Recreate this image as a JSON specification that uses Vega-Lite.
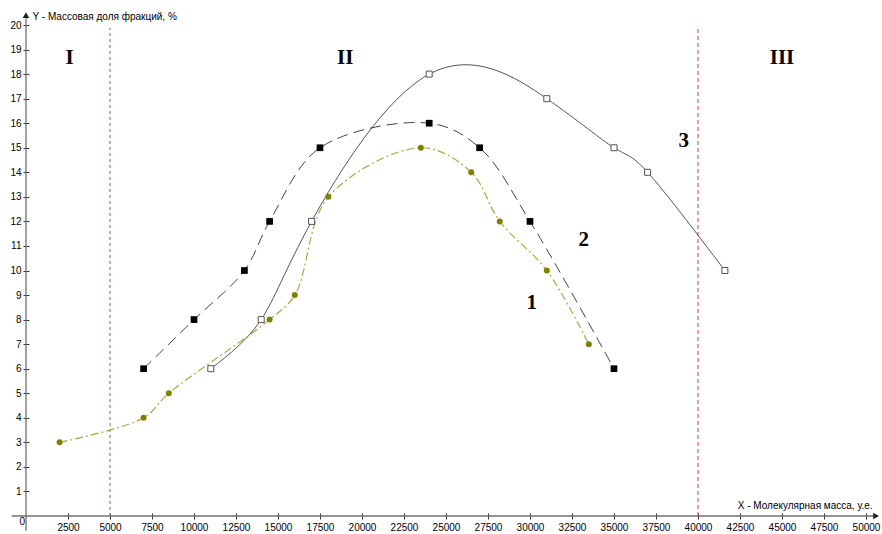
{
  "$schema": "https://vega.github.io/schema/vega-lite/v6.json",
  "width": 840,
  "height": 491,
  "autosize": {"type": "none"},
  "padding": {"left": 26, "top": 25, "right": 16, "bottom": 18},
  "background": "white",
  "config": {
    "view": {"stroke": null},
    "axis": {
      "grid": false,
      "domain": false,
      "labelFont": "Liberation Sans",
      "labelFontSize": 10,
      "labelColor": "#000",
      "labelOverlap": false,
      "labelFlush": false,
      "labelBound": false,
      "tickColor": "#333",
      "tickSize": 6,
      "offset": -3,
      "titleFont": "Liberation Sans",
      "titleFontSize": 10,
      "titleFontWeight": "normal",
      "titleColor": "#000"
    }
  },
  "datasets": {
    "curves": [
      {"series": "1", "x": 2000, "y": 3},
      {"series": "1", "x": 7000, "y": 4},
      {"series": "1", "x": 8500, "y": 5},
      {"series": "1", "x": 14500, "y": 8},
      {"series": "1", "x": 16000, "y": 9},
      {"series": "1", "x": 18000, "y": 13},
      {"series": "1", "x": 23500, "y": 15},
      {"series": "1", "x": 26500, "y": 14},
      {"series": "1", "x": 28200, "y": 12},
      {"series": "1", "x": 31000, "y": 10},
      {"series": "1", "x": 33500, "y": 7},
      {"series": "2", "x": 7000, "y": 6},
      {"series": "2", "x": 10000, "y": 8},
      {"series": "2", "x": 13000, "y": 10},
      {"series": "2", "x": 14500, "y": 12},
      {"series": "2", "x": 17500, "y": 15},
      {"series": "2", "x": 24000, "y": 16},
      {"series": "2", "x": 27000, "y": 15},
      {"series": "2", "x": 30000, "y": 12},
      {"series": "2", "x": 35000, "y": 6},
      {"series": "3", "x": 11000, "y": 6},
      {"series": "3", "x": 14000, "y": 8},
      {"series": "3", "x": 17000, "y": 12},
      {"series": "3", "x": 24000, "y": 18},
      {"series": "3", "x": 31000, "y": 17},
      {"series": "3", "x": 35000, "y": 15},
      {"series": "3", "x": 37000, "y": 14},
      {"series": "3", "x": 41600, "y": 10}
    ],
    "bounds": [
      {"b": "I-II", "x": 5000, "y": 0, "y2": 19.9},
      {"b": "II-III", "x": 40000, "y": 0, "y2": 19.9}
    ],
    "axes": [
      {"x": -850, "x2": 50700, "y": 0, "y2": 0},
      {"x": 0, "x2": 0, "y": -0.6, "y2": 20.4}
    ],
    "arrows": [
      {"x": 50600, "y": 0, "shape": "triangle-right"},
      {"x": 0, "y": 20.4, "shape": "triangle-up"}
    ],
    "labels": [
      {"x": 2600, "y": 18.66, "t": "I"},
      {"x": 19000, "y": 18.66, "t": "II"},
      {"x": 45000, "y": 18.66, "t": "III"},
      {"x": 30100, "y": 8.67, "t": "1"},
      {"x": 33200, "y": 11.26, "t": "2"},
      {"x": 39150, "y": 15.29, "t": "3"}
    ],
    "zero": [{"x": 0, "y": 0, "t": "0"}]
  },
  "layer": [
    {
      "data": {"name": "bounds"},
      "transform": [{"filter": "datum.b === 'I-II'"}],
      "mark": {"type": "rule", "stroke": "#3a9a3a", "strokeWidth": 1, "strokeDash": [3, 3]},
      "encoding": {
        "x": {
          "field": "x", "type": "quantitative",
          "scale": {"domain": [0, 50000], "nice": false, "zero": false},
          "axis": {
            "values": [2500, 5000, 7500, 10000, 12500, 15000, 17500, 20000, 22500, 25000, 27500, 30000, 32500, 35000, 37500, 40000, 42500, 45000, 47500, 50000],
            "tickCount": 20,
            "format": "d",
            "labelPadding": 3,
            "title": "X - Молекулярная масса, у.е.",
            "titleX": 846,
            "titleY": -8,
            "titleAlign": "right",
            "titleBaseline": "middle",
            "titleAngle": 0
          }
        },
        "y": {
          "field": "y", "type": "quantitative",
          "scale": {"domain": [0, 20], "nice": false, "zero": false},
          "axis": {
            "values": [1, 2, 3, 4, 5, 6, 7, 8, 9, 10, 11, 12, 13, 14, 15, 16, 17, 18, 19, 20],
            "tickCount": 20,
            "labelPadding": 2,
            "title": "Y - Массовая доля фракций, %",
            "titleX": 3,
            "titleY": -9,
            "titleAlign": "left",
            "titleBaseline": "middle",
            "titleAngle": 0
          }
        },
        "y2": {"field": "y2"}
      }
    },
    {
      "data": {"name": "bounds"},
      "transform": [{"filter": "datum.b === 'II-III'"}],
      "mark": {"type": "rule", "stroke": "#cc4444", "strokeWidth": 1, "strokeDash": [4, 3]},
      "encoding": {
        "x": {"field": "x", "type": "quantitative"},
        "y": {"field": "y", "type": "quantitative"},
        "y2": {"field": "y2"}
      }
    },
    {
      "data": {"name": "axes"},
      "mark": {"type": "rule", "stroke": "#707070", "strokeWidth": 1.3},
      "encoding": {
        "x": {"field": "x", "type": "quantitative"},
        "x2": {"field": "x2"},
        "y": {"field": "y", "type": "quantitative"},
        "y2": {"field": "y2"}
      }
    },
    {
      "data": {"name": "arrows"},
      "mark": {"type": "point", "filled": true, "size": 45, "color": "#222", "opacity": 1},
      "encoding": {
        "x": {"field": "x", "type": "quantitative"},
        "y": {"field": "y", "type": "quantitative"},
        "shape": {"field": "shape", "type": "nominal", "scale": null}
      }
    },
    {
      "data": {"name": "zero"},
      "mark": {"type": "text", "align": "right", "baseline": "top", "dx": -1, "dy": 1, "font": "Liberation Sans", "fontSize": 10, "color": "#000"},
      "encoding": {
        "x": {"field": "x", "type": "quantitative"},
        "y": {"field": "y", "type": "quantitative"},
        "text": {"field": "t"}
      }
    },
    {
      "data": {"name": "curves"},
      "transform": [{"filter": "datum.series === '3'"}],
      "mark": {"type": "line", "interpolate": "natural", "stroke": "#555", "strokeWidth": 1},
      "encoding": {
        "x": {"field": "x", "type": "quantitative"},
        "y": {"field": "y", "type": "quantitative"}
      }
    },
    {
      "data": {"name": "curves"},
      "transform": [{"filter": "datum.series === '2'"}],
      "mark": {"type": "line", "interpolate": "catmull-rom", "stroke": "#444", "strokeWidth": 1, "strokeDash": [11, 6]},
      "encoding": {
        "x": {"field": "x", "type": "quantitative"},
        "y": {"field": "y", "type": "quantitative"}
      }
    },
    {
      "data": {"name": "curves"},
      "transform": [{"filter": "datum.series === '1'"}],
      "mark": {"type": "line", "interpolate": "catmull-rom", "stroke": "#a8a848", "strokeWidth": 1.2, "strokeDash": [8, 3, 2, 3]},
      "encoding": {
        "x": {"field": "x", "type": "quantitative"},
        "y": {"field": "y", "type": "quantitative"}
      }
    },
    {
      "data": {"name": "curves"},
      "transform": [{"filter": "datum.series === '3'"}],
      "mark": {"type": "point", "shape": "square", "filled": false, "fill": "white", "stroke": "#555", "strokeWidth": 1, "size": 36, "opacity": 1},
      "encoding": {
        "x": {"field": "x", "type": "quantitative"},
        "y": {"field": "y", "type": "quantitative"}
      }
    },
    {
      "data": {"name": "curves"},
      "transform": [{"filter": "datum.series === '2'"}],
      "mark": {"type": "point", "shape": "square", "filled": true, "color": "#000", "size": 45, "opacity": 1},
      "encoding": {
        "x": {"field": "x", "type": "quantitative"},
        "y": {"field": "y", "type": "quantitative"}
      }
    },
    {
      "data": {"name": "curves"},
      "transform": [{"filter": "datum.series === '1'"}],
      "mark": {"type": "point", "shape": "circle", "filled": true, "color": "#808000", "size": 36, "opacity": 1},
      "encoding": {
        "x": {"field": "x", "type": "quantitative"},
        "y": {"field": "y", "type": "quantitative"}
      }
    },
    {
      "data": {"name": "labels"},
      "mark": {"type": "text", "align": "center", "baseline": "middle", "font": "Liberation Serif", "fontWeight": "bold", "fontSize": 21, "color": "#000"},
      "encoding": {
        "x": {"field": "x", "type": "quantitative"},
        "y": {"field": "y", "type": "quantitative"},
        "text": {"field": "t"}
      }
    }
  ]
}
